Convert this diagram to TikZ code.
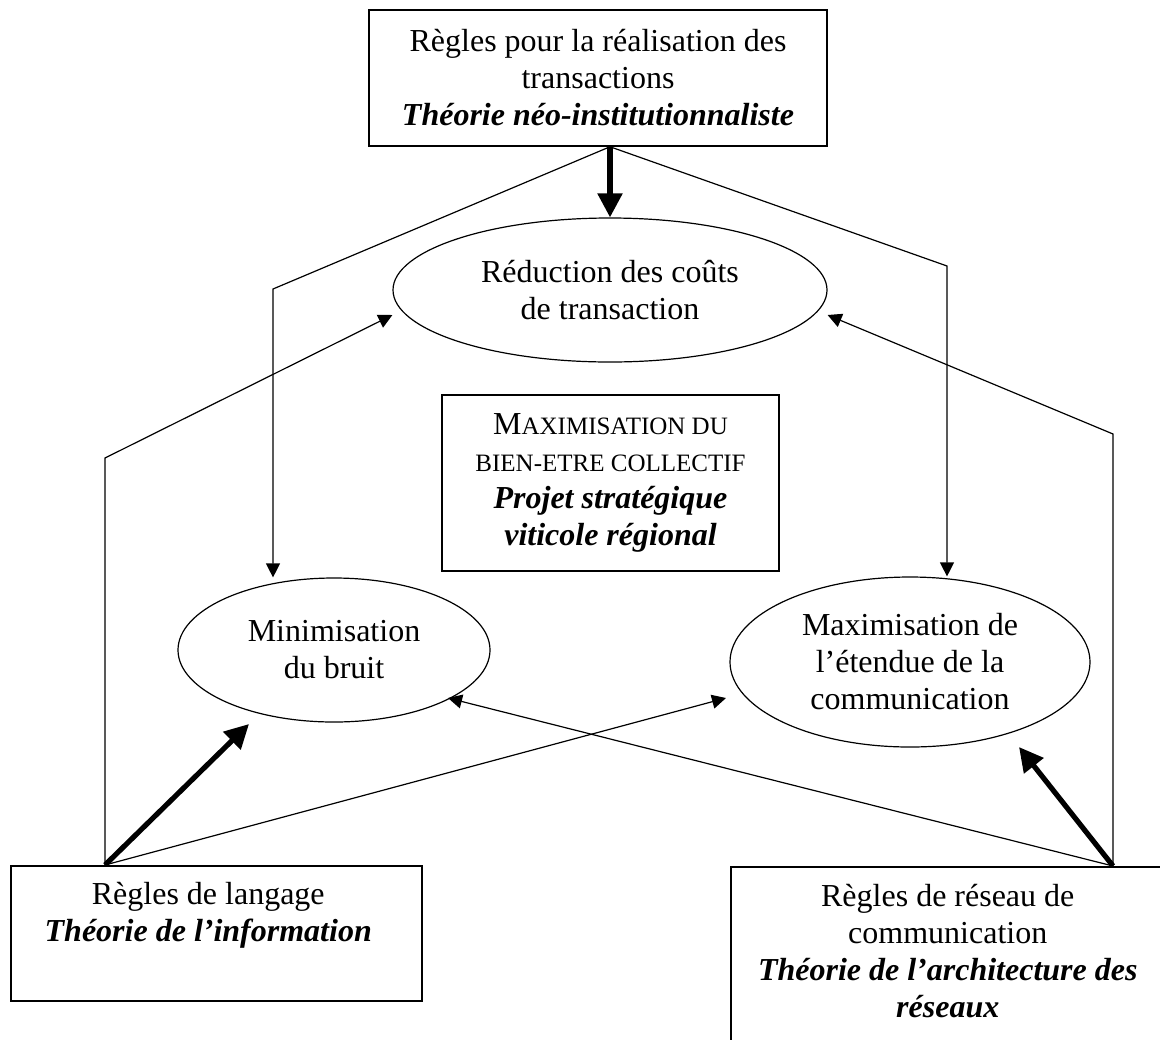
\documentclass[tikz,border=0pt]{standalone}
\usepackage{fontspec}
\setmainfont{Liberation Serif}
\usetikzlibrary{arrows.meta,shapes.geometric,positioning,calc}
\tikzset{
	regle/.style={draw,line width=0.75pt,rectangle,inner sep=0pt,align=center},
	but/.style={draw,line width=0.6pt,ellipse,inner sep=0pt,align=center},
	txt/.style={align=center,inner sep=0pt},
	fin/.style={line width=0.6pt,-{Triangle[length=7pt,width=7pt]}},
	gros/.style={line width=2.6pt,-{Triangle[length=12pt,width=12pt]}}
}
\newcommand{\pc}{\fontsize{12.5}{18.5}\selectfont}
\begin{document}
\begin{tikzpicture}[x=0.5pt,y=-0.5pt,font=\fontsize{16}{18.5}\selectfont]
				\useasboundingbox (0,0) rectangle (1160,1039);
				\clip (0,0) rectangle (1160,1039);
				\node[regle,minimum width=229pt,minimum height=68pt] (regtr) at (598,78) {Règles pour la réalisation des\\transactions\\\textbf{\textit{Théorie néo-institutionnaliste}}};
				\node[but,minimum width=217pt,minimum height=72pt] (couts) at (610,290) {Réduction des coûts\\de transaction};
				\node[regle,minimum width=168.5pt,minimum height=88pt] (bien) at (610.5,483) {{M\pc AXIMISATION DU}\\{\pc BIEN-ETRE COLLECTIF}\\\textbf{\textit{Projet stratégique}}\\\textbf{\textit{viticole régional}}};
				\node[but,minimum width=156pt,minimum height=72pt] (bruit) at (334,650) {Minimisation\\du bruit};
				\node[but,minimum width=180pt,minimum height=85pt] (etendue) at (910,662) {Maximisation de\\l’étendue de la\\communication};
				\node[regle,minimum width=205.5pt,minimum height=67.5pt,anchor=north west] (langage) at (10,865) {};
				\node[txt,below=8.5pt of langage.north,xshift=-4pt] (langtxt) {Règles de langage\\\textbf{\textit{Théorie de l’information}}};
				\node[regle,minimum width=217pt,minimum height=100pt,anchor=north west] (reseau) at (730,866) {};
				\node[txt,below=9pt of reseau.north] (restxt) {Règles de réseau de\\communication\\\textbf{\textit{Théorie de l’architecture des}}\\\textbf{\textit{réseaux}}};
				\coordinate (depart) at (regtr.south -| couts.north);
				\coordinate (coudeG) at (273,289);
				\coordinate (coudeD) at (947,266);
				\coordinate (sourceG) at ($(langage.north west)+(95,0)$);
				\coordinate (sourceD) at ($(reseau.north west)+(383,0)$);
				\coordinate (montG) at (105,458);
				\coordinate (montD) at (1113,434);
				\coordinate (cibleBruit) at (249,724);
				\coordinate (cibleEtendue) at (726,698);
				\coordinate (retourBruit) at (448,698);
				\coordinate (retourEtendue) at (1019,747);
				\draw[gros] (depart) -- (couts.north);
				\draw[fin] (depart) -- (coudeG) -- (coudeG |- bruit.north);
				\draw[fin] (depart) -- (coudeD) -- (coudeD |- etendue.north);
				\draw[fin] (sourceG) -- (montG) -- ([yshift=-12.5pt]couts.west);
				\draw[fin] (sourceD) -- (montD) -- ([yshift=-12.5pt]couts.east);
				\draw[gros] (sourceG) -- (cibleBruit);
				\draw[fin] (sourceG) -- (cibleEtendue);
				\draw[fin] (sourceD) -- (retourBruit);
				\draw[gros] (sourceD) -- (retourEtendue);
			\end{tikzpicture}
\end{document}
